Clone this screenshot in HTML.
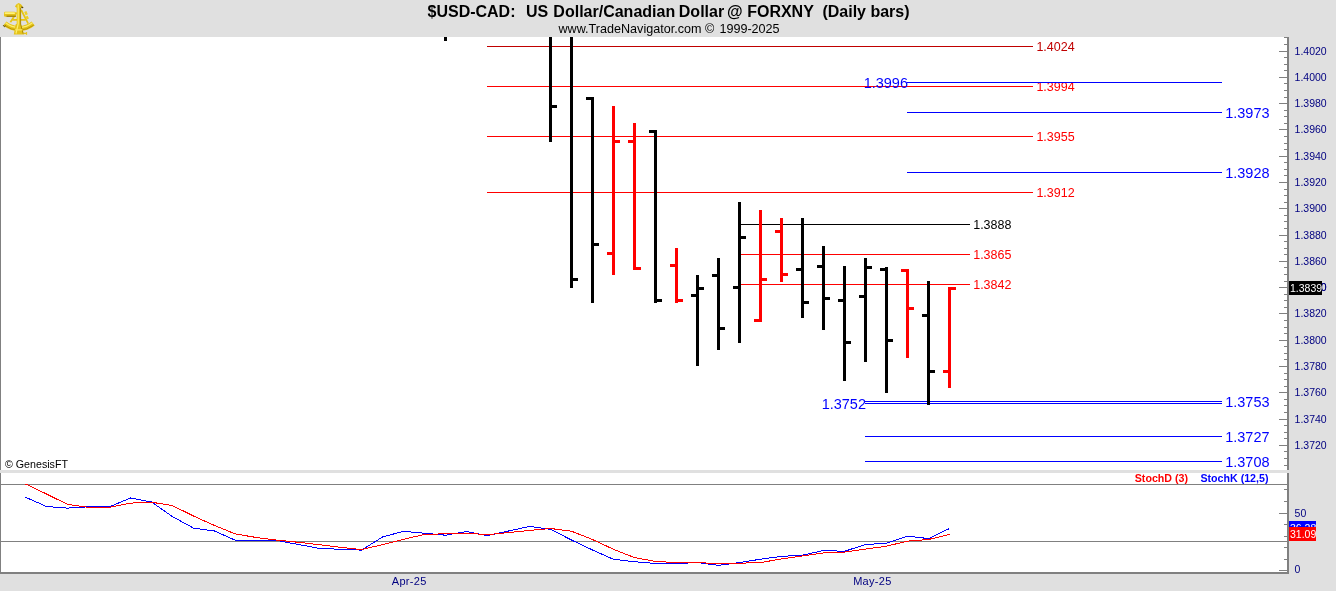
<!DOCTYPE html>
<html><head><meta charset="utf-8"><title>$USD-CAD Daily bars</title>
<style>
html,body{margin:0;padding:0;background:#e0e0e0;overflow:hidden}
svg{display:block;font-family:"Liberation Sans",sans-serif}
svg rect{shape-rendering:crispEdges}
#logo rect{shape-rendering:auto}
</style></head>
<body>
<svg width="1336" height="591" viewBox="0 0 1336 591">
<rect x="0" y="0" width="1336" height="591" fill="#e0e0e0"/>
<rect x="0" y="37" width="1287" height="433" fill="#fff"/>
<rect x="0" y="473" width="1287" height="99" fill="#fff"/>
<rect x="1284" y="465" width="3" height="1" fill="#808080"/>
<rect x="1284" y="458" width="3" height="1" fill="#808080"/>
<rect x="1284" y="451" width="3" height="1" fill="#808080"/>
<rect x="1279" y="445" width="8" height="1" fill="#808080"/>
<rect x="1284" y="438" width="3" height="1" fill="#808080"/>
<rect x="1284" y="432" width="3" height="1" fill="#808080"/>
<rect x="1284" y="425" width="3" height="1" fill="#808080"/>
<rect x="1279" y="419" width="8" height="1" fill="#808080"/>
<rect x="1284" y="412" width="3" height="1" fill="#808080"/>
<rect x="1284" y="405" width="3" height="1" fill="#808080"/>
<rect x="1284" y="399" width="3" height="1" fill="#808080"/>
<rect x="1279" y="392" width="8" height="1" fill="#808080"/>
<rect x="1284" y="386" width="3" height="1" fill="#808080"/>
<rect x="1284" y="379" width="3" height="1" fill="#808080"/>
<rect x="1284" y="373" width="3" height="1" fill="#808080"/>
<rect x="1279" y="366" width="8" height="1" fill="#808080"/>
<rect x="1284" y="359" width="3" height="1" fill="#808080"/>
<rect x="1284" y="353" width="3" height="1" fill="#808080"/>
<rect x="1284" y="346" width="3" height="1" fill="#808080"/>
<rect x="1279" y="340" width="8" height="1" fill="#808080"/>
<rect x="1284" y="333" width="3" height="1" fill="#808080"/>
<rect x="1284" y="327" width="3" height="1" fill="#808080"/>
<rect x="1284" y="320" width="3" height="1" fill="#808080"/>
<rect x="1279" y="313" width="8" height="1" fill="#808080"/>
<rect x="1284" y="307" width="3" height="1" fill="#808080"/>
<rect x="1284" y="300" width="3" height="1" fill="#808080"/>
<rect x="1284" y="294" width="3" height="1" fill="#808080"/>
<rect x="1279" y="287" width="8" height="1" fill="#808080"/>
<rect x="1284" y="281" width="3" height="1" fill="#808080"/>
<rect x="1284" y="274" width="3" height="1" fill="#808080"/>
<rect x="1284" y="267" width="3" height="1" fill="#808080"/>
<rect x="1279" y="261" width="8" height="1" fill="#808080"/>
<rect x="1284" y="254" width="3" height="1" fill="#808080"/>
<rect x="1284" y="248" width="3" height="1" fill="#808080"/>
<rect x="1284" y="241" width="3" height="1" fill="#808080"/>
<rect x="1279" y="235" width="8" height="1" fill="#808080"/>
<rect x="1284" y="228" width="3" height="1" fill="#808080"/>
<rect x="1284" y="221" width="3" height="1" fill="#808080"/>
<rect x="1284" y="215" width="3" height="1" fill="#808080"/>
<rect x="1279" y="208" width="8" height="1" fill="#808080"/>
<rect x="1284" y="202" width="3" height="1" fill="#808080"/>
<rect x="1284" y="195" width="3" height="1" fill="#808080"/>
<rect x="1284" y="189" width="3" height="1" fill="#808080"/>
<rect x="1279" y="182" width="8" height="1" fill="#808080"/>
<rect x="1284" y="175" width="3" height="1" fill="#808080"/>
<rect x="1284" y="169" width="3" height="1" fill="#808080"/>
<rect x="1284" y="162" width="3" height="1" fill="#808080"/>
<rect x="1279" y="156" width="8" height="1" fill="#808080"/>
<rect x="1284" y="149" width="3" height="1" fill="#808080"/>
<rect x="1284" y="143" width="3" height="1" fill="#808080"/>
<rect x="1284" y="136" width="3" height="1" fill="#808080"/>
<rect x="1279" y="129" width="8" height="1" fill="#808080"/>
<rect x="1284" y="123" width="3" height="1" fill="#808080"/>
<rect x="1284" y="116" width="3" height="1" fill="#808080"/>
<rect x="1284" y="110" width="3" height="1" fill="#808080"/>
<rect x="1279" y="103" width="8" height="1" fill="#808080"/>
<rect x="1284" y="97" width="3" height="1" fill="#808080"/>
<rect x="1284" y="90" width="3" height="1" fill="#808080"/>
<rect x="1284" y="83" width="3" height="1" fill="#808080"/>
<rect x="1279" y="77" width="8" height="1" fill="#808080"/>
<rect x="1284" y="70" width="3" height="1" fill="#808080"/>
<rect x="1284" y="64" width="3" height="1" fill="#808080"/>
<rect x="1284" y="57" width="3" height="1" fill="#808080"/>
<rect x="1279" y="51" width="8" height="1" fill="#808080"/>
<rect x="1284" y="44" width="3" height="1" fill="#808080"/>
<rect x="1284" y="37" width="3" height="1" fill="#808080"/>
<text x="1294.6" y="448.8" font-size="10.5" fill="#000080" text-anchor="start" font-weight="normal">1.3720</text>
<text x="1294.6" y="422.8" font-size="10.5" fill="#000080" text-anchor="start" font-weight="normal">1.3740</text>
<text x="1294.6" y="395.8" font-size="10.5" fill="#000080" text-anchor="start" font-weight="normal">1.3760</text>
<text x="1294.6" y="369.8" font-size="10.5" fill="#000080" text-anchor="start" font-weight="normal">1.3780</text>
<text x="1294.6" y="343.8" font-size="10.5" fill="#000080" text-anchor="start" font-weight="normal">1.3800</text>
<text x="1294.6" y="316.8" font-size="10.5" fill="#000080" text-anchor="start" font-weight="normal">1.3820</text>
<text x="1294.6" y="290.8" font-size="10.5" fill="#000080" text-anchor="start" font-weight="normal">1.3840</text>
<text x="1294.6" y="264.8" font-size="10.5" fill="#000080" text-anchor="start" font-weight="normal">1.3860</text>
<text x="1294.6" y="238.8" font-size="10.5" fill="#000080" text-anchor="start" font-weight="normal">1.3880</text>
<text x="1294.6" y="211.8" font-size="10.5" fill="#000080" text-anchor="start" font-weight="normal">1.3900</text>
<text x="1294.6" y="185.8" font-size="10.5" fill="#000080" text-anchor="start" font-weight="normal">1.3920</text>
<text x="1294.6" y="159.8" font-size="10.5" fill="#000080" text-anchor="start" font-weight="normal">1.3940</text>
<text x="1294.6" y="132.8" font-size="10.5" fill="#000080" text-anchor="start" font-weight="normal">1.3960</text>
<text x="1294.6" y="106.8" font-size="10.5" fill="#000080" text-anchor="start" font-weight="normal">1.3980</text>
<text x="1294.6" y="80.8" font-size="10.5" fill="#000080" text-anchor="start" font-weight="normal">1.4000</text>
<text x="1294.6" y="54.8" font-size="10.5" fill="#000080" text-anchor="start" font-weight="normal">1.4020</text>
<rect x="1279" y="570" width="8" height="1" fill="#808080"/>
<rect x="1284" y="559" width="3" height="1" fill="#808080"/>
<rect x="1284" y="547" width="3" height="1" fill="#808080"/>
<rect x="1284" y="536" width="3" height="1" fill="#808080"/>
<rect x="1284" y="524" width="3" height="1" fill="#808080"/>
<rect x="1279" y="513" width="8" height="1" fill="#808080"/>
<rect x="1284" y="501" width="3" height="1" fill="#808080"/>
<rect x="1284" y="489" width="3" height="1" fill="#808080"/>
<text x="1294.6" y="516.8" font-size="10.5" fill="#000080" text-anchor="start" font-weight="normal">50</text>
<text x="1294.6" y="572.8" font-size="10.5" fill="#000080" text-anchor="start" font-weight="normal">0</text>
<rect x="1" y="484" width="1286" height="1" fill="#808080"/>
<rect x="1" y="541" width="1286" height="1" fill="#808080"/>
<rect x="487" y="46" width="546" height="1" fill="#c00000"/>
<text x="1036.4" y="50.98" font-size="12.5" fill="#c00000" text-anchor="start" font-weight="normal">1.4024</text>
<rect x="487" y="86" width="546" height="1" fill="#ff0000"/>
<text x="1036.4" y="90.97" font-size="12.5" fill="#ff0000" text-anchor="start" font-weight="normal">1.3994</text>
<rect x="487" y="136" width="546" height="1" fill="#ff0000"/>
<text x="1036.4" y="140.97" font-size="12.5" fill="#ff0000" text-anchor="start" font-weight="normal">1.3955</text>
<rect x="487" y="192" width="546" height="1" fill="#ff0000"/>
<text x="1036.4" y="196.97" font-size="12.5" fill="#ff0000" text-anchor="start" font-weight="normal">1.3912</text>
<rect x="739" y="224" width="231" height="1" fill="#000000"/>
<text x="973.2" y="228.97" font-size="12.5" fill="#000000" text-anchor="start" font-weight="normal">1.3888</text>
<rect x="739" y="254" width="231" height="1" fill="#ff0000"/>
<text x="973.2" y="258.98" font-size="12.5" fill="#ff0000" text-anchor="start" font-weight="normal">1.3865</text>
<rect x="739" y="284" width="231" height="1" fill="#ff0000"/>
<text x="973.2" y="288.98" font-size="12.5" fill="#ff0000" text-anchor="start" font-weight="normal">1.3842</text>
<rect x="907" y="82" width="315" height="1" fill="#0000ff"/>
<text transform="translate(908,88.0) scale(1,1.06)" font-size="14.5" fill="#0000ff" text-anchor="end">1.3996</text>
<rect x="907" y="112" width="315" height="1" fill="#0000ff"/>
<text transform="translate(1225.2,118.0) scale(1,1.06)" font-size="14.5" fill="#0000ff" text-anchor="start">1.3973</text>
<rect x="907" y="172" width="315" height="1" fill="#0000ff"/>
<text transform="translate(1225.2,178.0) scale(1,1.06)" font-size="14.5" fill="#0000ff" text-anchor="start">1.3928</text>
<rect x="865" y="401" width="357" height="1" fill="#0000ff"/>
<rect x="865" y="403" width="357" height="1" fill="#0000ff"/>
<text transform="translate(1225.2,407.0) scale(1,1.06)" font-size="14.5" fill="#0000ff" text-anchor="start">1.3753</text>
<text transform="translate(866,409.0) scale(1,1.06)" font-size="14.5" fill="#0000ff" text-anchor="end">1.3752</text>
<rect x="865" y="436" width="357" height="1" fill="#0000ff"/>
<text transform="translate(1225.2,442.0) scale(1,1.06)" font-size="14.5" fill="#0000ff" text-anchor="start">1.3727</text>
<rect x="865" y="461" width="357" height="1" fill="#0000ff"/>
<text transform="translate(1225.2,467.0) scale(1,1.06)" font-size="14.5" fill="#0000ff" text-anchor="start">1.3708</text>
<rect x="549" y="37" width="3" height="105" fill="#000000"/>
<rect x="552" y="105" width="5" height="3" fill="#000000"/>
<rect x="570" y="37" width="3" height="251" fill="#000000"/>
<rect x="573" y="278" width="5" height="3" fill="#000000"/>
<rect x="591" y="97" width="3" height="206" fill="#000000"/>
<rect x="586" y="97" width="5" height="3" fill="#000000"/>
<rect x="594" y="243" width="5" height="3" fill="#000000"/>
<rect x="612" y="106" width="3" height="169" fill="#ff0000"/>
<rect x="607" y="252" width="5" height="3" fill="#ff0000"/>
<rect x="615" y="140" width="5" height="3" fill="#ff0000"/>
<rect x="633" y="123" width="3" height="147" fill="#ff0000"/>
<rect x="628" y="140" width="5" height="3" fill="#ff0000"/>
<rect x="636" y="267" width="5" height="3" fill="#ff0000"/>
<rect x="654" y="130" width="3" height="173" fill="#000000"/>
<rect x="649" y="130" width="5" height="3" fill="#000000"/>
<rect x="657" y="299" width="5" height="3" fill="#000000"/>
<rect x="675" y="248" width="3" height="55" fill="#ff0000"/>
<rect x="670" y="264" width="5" height="3" fill="#ff0000"/>
<rect x="678" y="299" width="5" height="3" fill="#ff0000"/>
<rect x="696" y="275" width="3" height="91" fill="#000000"/>
<rect x="691" y="294" width="5" height="3" fill="#000000"/>
<rect x="699" y="287" width="5" height="3" fill="#000000"/>
<rect x="717" y="258" width="3" height="92" fill="#000000"/>
<rect x="712" y="274" width="5" height="3" fill="#000000"/>
<rect x="720" y="327" width="5" height="3" fill="#000000"/>
<rect x="738" y="202" width="3" height="141" fill="#000000"/>
<rect x="733" y="286" width="5" height="3" fill="#000000"/>
<rect x="741" y="236" width="5" height="3" fill="#000000"/>
<rect x="759" y="210" width="3" height="112" fill="#ff0000"/>
<rect x="754" y="319" width="5" height="3" fill="#ff0000"/>
<rect x="762" y="278" width="5" height="3" fill="#ff0000"/>
<rect x="780" y="218" width="3" height="64" fill="#ff0000"/>
<rect x="775" y="230" width="5" height="3" fill="#ff0000"/>
<rect x="783" y="273" width="5" height="3" fill="#ff0000"/>
<rect x="801" y="218" width="3" height="100" fill="#000000"/>
<rect x="796" y="268" width="5" height="3" fill="#000000"/>
<rect x="804" y="301" width="5" height="3" fill="#000000"/>
<rect x="822" y="246" width="3" height="84" fill="#000000"/>
<rect x="817" y="265" width="5" height="3" fill="#000000"/>
<rect x="825" y="297" width="5" height="3" fill="#000000"/>
<rect x="843" y="266" width="3" height="115" fill="#000000"/>
<rect x="838" y="299" width="5" height="3" fill="#000000"/>
<rect x="846" y="341" width="5" height="3" fill="#000000"/>
<rect x="864" y="258" width="3" height="104" fill="#000000"/>
<rect x="859" y="295" width="5" height="3" fill="#000000"/>
<rect x="867" y="266" width="5" height="3" fill="#000000"/>
<rect x="885" y="267" width="3" height="126" fill="#000000"/>
<rect x="880" y="268" width="5" height="3" fill="#000000"/>
<rect x="888" y="339" width="5" height="3" fill="#000000"/>
<rect x="906" y="269" width="3" height="89" fill="#ff0000"/>
<rect x="901" y="269" width="5" height="3" fill="#ff0000"/>
<rect x="909" y="307" width="5" height="3" fill="#ff0000"/>
<rect x="927" y="281" width="3" height="124" fill="#000000"/>
<rect x="922" y="314" width="5" height="3" fill="#000000"/>
<rect x="930" y="370" width="5" height="3" fill="#000000"/>
<rect x="948" y="287" width="3" height="101" fill="#ff0000"/>
<rect x="943" y="370" width="5" height="3" fill="#ff0000"/>
<rect x="951" y="287" width="5" height="3" fill="#ff0000"/>
<rect x="444" y="37" width="3" height="4" fill="#000000"/>
<polyline points="25.5,497.2 46.5,506.5 67.5,508.1 88.5,506.8 109.5,506.8 130.5,498 151.5,502 172.5,516.6 193.5,528.1 214.5,531 235.5,540.3 256.5,541 277.5,540.6 298.5,544.5 319.5,548.4 340.5,549.3 361.5,550.1 382.5,537 403.5,531.3 424.5,533.2 445.5,535.2 466.5,531.5 487.5,535.6 508.5,531 529.5,526.4 550.5,529.3 571.5,540 592.5,550 613.5,559.3 634.5,561.7 655.5,563.5 676.5,563.5 697.5,562.6 718.5,565.3 739.5,562.6 760.5,559.2 781.5,556.4 802.5,555.2 823.5,550.5 844.5,551.3 865.5,544.5 886.5,543.3 907.5,536.1 928.5,538.6 949.5,528.5" fill="none" stroke="#0000ff" stroke-width="1" shape-rendering="crispEdges"/>
<polyline points="25.5,484 46.5,494 67.5,504.4 88.5,507.3 109.5,507.3 130.5,503.1 151.5,502.2 172.5,505.6 193.5,516 214.5,525.5 235.5,534 256.5,537.5 277.5,540.2 298.5,542.3 319.5,544.7 340.5,547.3 361.5,549.6 382.5,544.6 403.5,539.3 424.5,534.4 445.5,533.8 466.5,533.2 487.5,534.7 508.5,532.6 529.5,530.4 550.5,528.5 571.5,531.2 592.5,539.5 613.5,549.3 634.5,557.6 655.5,561.4 676.5,562.6 697.5,562.6 718.5,563.6 739.5,563.2 760.5,562.6 781.5,558.9 802.5,555.9 823.5,553 844.5,552.1 865.5,549.1 886.5,546.2 907.5,541.1 928.5,539.5 949.5,534.4" fill="none" stroke="#ff0000" stroke-width="1" shape-rendering="crispEdges"/>
<rect x="0" y="37" width="1" height="537" fill="#808080"/>
<rect x="1287" y="37" width="2" height="537" fill="#808080"/>
<rect x="0" y="572" width="1289" height="2" fill="#808080"/>
<rect x="0" y="470" width="1336" height="3" fill="#e0e0e0"/>
<text x="1294.6" y="290.8" font-size="10.5" fill="#000080" text-anchor="start" font-weight="normal">1.3840</text>
<rect x="1289" y="281" width="33" height="14" fill="#000"/>
<text x="1290" y="292" font-size="10.5" fill="#fff" text-anchor="start" font-weight="normal">1.3839</text>
<rect x="1289" y="521" width="27" height="14" fill="#0000ff"/>
<text x="1290" y="532" font-size="10.5" fill="#fff" text-anchor="start" font-weight="normal">36.28</text>
<rect x="1289" y="527" width="27" height="14" fill="#ff0000"/>
<text x="1290" y="538" font-size="10.5" fill="#fff" text-anchor="start" font-weight="normal">31.09</text>
<text x="1188" y="482" font-size="10.67" fill="#ff0000" text-anchor="end" font-weight="bold">StochD (3)</text>
<text x="1268.5" y="482" font-size="10.67" fill="#0000ff" text-anchor="end" font-weight="bold">StochK (12,5)</text>
<text x="5" y="468" font-size="10.67" fill="#000" text-anchor="start" font-weight="normal">© GenesisFT</text>
<text x="409.2" y="585" font-size="11" fill="#000080" text-anchor="middle" font-weight="normal" letter-spacing="0.3">Apr-25</text>
<text x="872.4" y="585" font-size="11" fill="#000080" text-anchor="middle" font-weight="normal" letter-spacing="0.3">May-25</text>
<text x="427.5" y="16.5" font-size="16" font-weight="bold" fill="#000" xml:space="preserve">$USD-CAD:  <tspan dx="1.5">US </tspan><tspan dx="0.8">Dollar/Canadian </tspan><tspan dx="-0.8">Dollar </tspan><tspan dx="-1.5">@ FORXNY  (Daily bars)</tspan></text>
<text x="558.5" y="33.3" font-size="12.6" fill="#000" xml:space="preserve">www.TradeNavigator.com © <tspan dx="1.6">1999-2025</tspan></text>
<g id="logo">
<path d="M16.6 12.5 L10.4 22.3 M21.2 10 L28.2 23.6 M12.6 19.9 L25.4 19.9" fill="none" stroke="#e6c414" stroke-width="1.7"/>
<path d="M25.3 11.6 L26.7 14.8 M26.5 16.2 L27.9 19" fill="none" stroke="#ecd024" stroke-width="2.4"/>
<path d="M6.41 21.54 A20 20 0 0 0 31.59 21.54 L34.73 25.43 A25 25 0 0 1 3.27 25.43 Z" fill="#e4c21a"/>
<path d="M5.6 22.7 A21.4 21.4 0 0 0 32.4 22.7" fill="none" stroke="#fdee6a" stroke-width="1.4"/>
<path d="M4.3 25.2 A24.3 24.3 0 0 0 33.7 25.2" fill="none" stroke="#b39200" stroke-width="0.9"/>
<path d="M3.2 25.2 L4.4 26.8 L5.6 25.8" fill="none" stroke="#4a3a00" stroke-width="0.9"/>
<rect x="4" y="11.8" width="11.7" height="4.9" rx="1.3" fill="#e4c21a"/>
<rect x="4.6" y="12.3" width="10.4" height="1.7" rx="0.7" fill="#fff27a"/>
<rect x="6.5" y="15.7" width="9.5" height="1" fill="#8a6c00"/>
<path d="M18.7 2.9 Q21.2 3.6 22.8 6.4 L20.9 7.8 L20.8 24 L24.1 34.4 L13.8 34.4 L15.6 24.4 L16.7 23.8 L16.7 7.8 L14.9 6.4 Q16.2 3.6 18.7 2.9 Z" fill="#e4c21a"/>
<path d="M21.6 6.2 L23.6 7.5 L22.6 8.3 L21.2 8 Z" fill="#5a4600"/>
<path d="M18.2 4.5 L18.2 24 L16 33.5" fill="none" stroke="#fdee6a" stroke-width="1.2"/>
<path d="M20.6 8 L20.6 24 L23.2 33.8" fill="none" stroke="#a88600" stroke-width="0.9"/>
<rect x="15.2" y="29.2" width="7.2" height="1.3" fill="#f9e560"/>
<rect x="24" y="32.7" width="3" height="1.4" fill="#e4c21a"/>
<rect x="26.1" y="32" width="1" height="2.9" fill="#e4c21a"/>
</g>
</svg>
</body></html>
